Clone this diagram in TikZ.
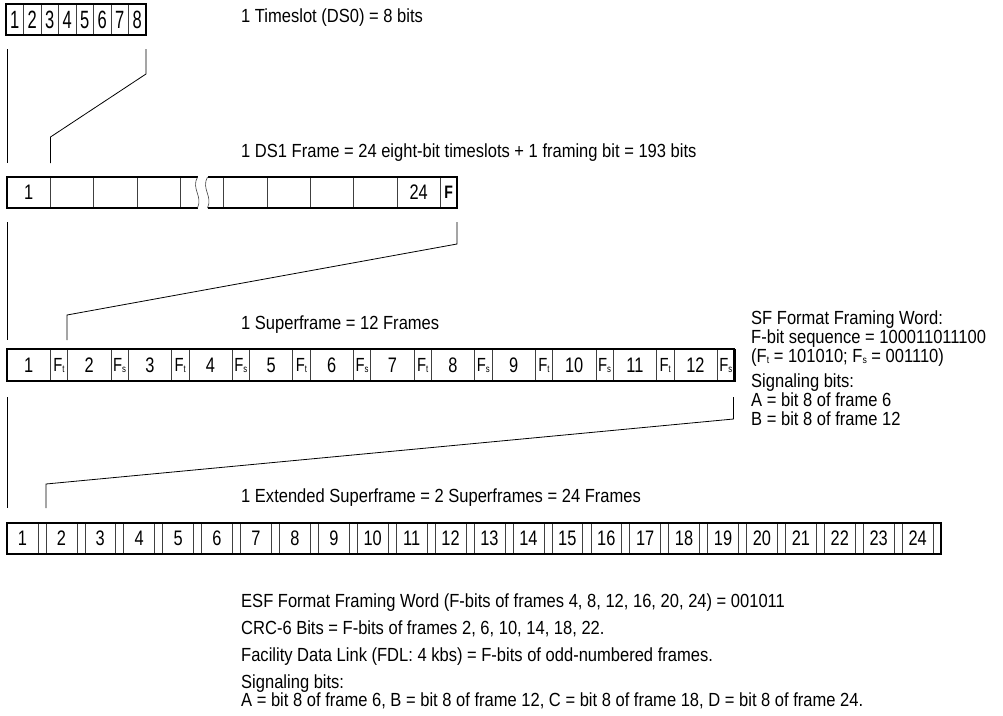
\documentclass[tikz,border=0pt]{standalone}
\usepackage{fontspec}
\setmainfont{Liberation Sans}[FakeStretch=0.87]
\newfontfamily\cellfont{Liberation Sans}[FakeStretch=0.78]
\newfontfamily\slotfont{Liberation Sans}[FakeStretch=0.66]
\newcommand{\fsub}[1]{F\raisebox{-1pt}{\fontsize{10}{10}\selectfont #1}}
\tikzset{
  frame/.style={line width=1.5pt},
  edge/.style={line width=2.3pt},
  sep/.style={line width=0.6pt, draw=black!75},
  link/.style={line width=0.8pt},
  lbl/.style={anchor=base west, inner sep=0pt, font=\fontsize{19}{19}\selectfont},
  num/.style={inner sep=0pt, font=\cellfont\fontsize{21}{21}\selectfont},
  fbit/.style={inner sep=0pt, font=\cellfont\fontsize{19}{19}\selectfont},
}
\begin{document}
\begin{tikzpicture}[x=1pt,y=-1pt]
  \useasboundingbox (0,0) rectangle (1003,715);

  % one timeslot
  \foreach \i in {1,...,7}
    \draw[sep] ({6+17.5*\i},4) -- ++(0,31);
  \foreach \i in {1,...,8}
    \node[num, font=\slotfont\fontsize{25}{25}\selectfont] (ts\i) at ({17.5*\i-2.75},20) {\i};
  \draw[frame] (6,4) rectangle (146,35);
  \draw[edge] (6,35) -- (146,35) -- (146,4);
  \node[lbl] (tslabel) at (241,22.7) {1 Timeslot (DS0) = 8 bits};

  % timeslot -> frame
  \coordinate (tsL) at (7.5,49);
  \coordinate (tsR) at (146,49);
  \coordinate (dsL) at (7.5,163);
  \coordinate (dsR) at (50.5,163);
  \draw[link] (tsL) -- (dsL);
  \draw[link] (tsR) -- ++(0,25) -- (50.5,137) -- (dsR);

  % DS1 frame
  \node[lbl] (dslabel) at (241,157)
    {1 DS1 Frame = 24 eight-bit timeslots + 1 framing bit = 193 bits};
  \foreach \i in {1,...,10}
    \draw[sep] ({7+43.33*\i},177) -- ++(0,31);
  \draw[frame] (7,177) rectangle (457,208);
  \draw[edge] (7,208) -- (457,208) -- (457,177);
  \fill[white] (197.5,174) rectangle (207.5,211);
  \draw[sep] (197.5,177) .. controls (191,189) and (203,196) .. (197.5,208);
  \draw[sep] (207.5,177) .. controls (201,189) and (213,196) .. (207.5,208);
  \node[num] (ds1) at (28.7,192.5) {1};
  \node[num] (ds24) at (418.7,192.5) {24};
  \node[num, font=\cellfont\bfseries\fontsize{18}{18}\selectfont] (dsF) at (448.7,192.5) {F};

  % frame -> superframe
  \coordinate (fL) at (7.5,222);
  \coordinate (fR) at (457,222);
  \coordinate (sfL) at (7.5,340);
  \coordinate (sfR) at (67,340);
  \draw[link] (fL) -- (sfL);
  \draw[link] (fR) -- ++(0,22) -- (67,315) -- (sfR);

  % superframe
  \node[lbl] (sflabel) at (241,329) {1 Superframe = 12 Frames};
  \foreach \k in {0,...,11} {
    \pgfmathtruncatemacro\n{\k+1}
    \pgfmathsetmacro\x{7+60.62*\k}
    \ifodd\n \def\fb{t}\else\def\fb{s}\fi
    \draw[sep] (\x+43.3,349) -- ++(0,32);
    \ifnum\k<11 \draw[sep] (\x+60.62,349) -- ++(0,32); \fi
    \node[num] (sf\n) at (\x+21.65,365) {\n};
    \node[fbit] (sfF\n) at (\x+52,365.5) {\fsub{\fb}};
  }
  \draw[frame] (7,349) rectangle (734.5,381);
  \draw[edge] (7,381) -- (734.5,381) -- (734.5,349);

  % SF notes
  \node[lbl] (sfword) at (751,324) {SF Format Framing Word:};
  \node[lbl] (sfseq) at (751,343) {F-bit sequence = 100011011100};
  \node[lbl] (sfbits) at (751,362) {(\fsub{t} = 101010; \fsub{s} = 001110)};
  \node[lbl] (sfsig) at (751,387) {Signaling bits:};
  \node[lbl] (sfsigA) at (751,406) {A = bit 8 of frame 6};
  \node[lbl] (sfsigB) at (751,425) {B = bit 8 of frame 12};

  % superframe -> extended superframe
  \coordinate (sL) at (7.5,397);
  \coordinate (sR) at (733.5,397);
  \coordinate (esL) at (7.5,508);
  \coordinate (esR) at (46,508);
  \draw[link] (sL) -- (esL);
  \draw[link] (sR) -- ++(0,22) -- (46,484) -- (esR);

  % extended superframe
  \node[lbl] (eslabel) at (241,502)
    {1 Extended Superframe = 2 Superframes = 24 Frames};
  \foreach \k in {0,...,23} {
    \pgfmathtruncatemacro\n{\k+1}
    \pgfmathsetmacro\x{7+38.92*\k}
    \draw[sep] (\x+30.9,523) -- ++(0,31);
    \ifnum\k<23 \draw[sep] (\x+38.92,523) -- ++(0,31); \fi
    \node[num] (es\n) at (\x+15.45,538.5) {\n};
  }
  \draw[frame] (7,523) rectangle (941,554);
  \draw[edge] (7,554) -- (941,554) -- (941,523);

  % ESF notes
  \node[lbl] (esfword) at (241,607)
    {ESF Format Framing Word (F-bits of frames 4, 8, 12, 16, 20, 24) = 001011};
  \node[lbl] (esfcrc) at (241,634) {CRC-6 Bits = F-bits of frames 2, 6, 10, 14, 18, 22.};
  \node[lbl] (esffdl) at (241,661)
    {Facility Data Link (FDL: 4 kbs) = F-bits of odd-numbered frames.};
  \node[lbl] (esfsig) at (241,688) {Signaling bits:};
  \node[lbl] (esfsigA) at (241,706.5)
    {A = bit 8 of frame 6, B = bit 8 of frame 12, C = bit 8 of frame 18, D = bit 8 of frame 24.};
\end{tikzpicture}
\end{document}
